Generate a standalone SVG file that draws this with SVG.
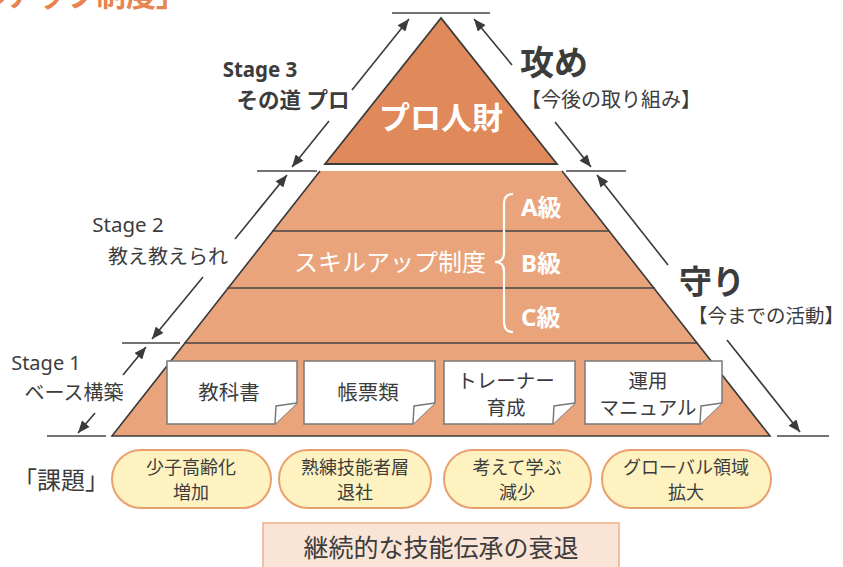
<svg xmlns="http://www.w3.org/2000/svg" width="843" height="567" viewBox="0 0 843 567">
<style>
text{font-family:"Noto Sans","Noto Sans CJK JP",sans-serif;fill:#3c3c3c}
.w{fill:#fff}
.b{font-weight:bold}
.tick{stroke:#444;stroke-width:1.5}
.arr{stroke:#3a3a3a;stroke-width:1.6;fill:none;marker-end:url(#ah)}
.doc{fill:#fff;stroke:#7a7a7a;stroke-width:1.5}
.ov{fill:#FEF3C0;stroke:#E9A06E;stroke-width:2}
.dt{font-size:20.5px;text-anchor:middle}
.dt2{font-size:19.5px;text-anchor:middle}
.ot{font-size:18px;text-anchor:middle}
</style>
<defs>
<marker id="ah" viewBox="0 0 12 10" refX="12" refY="5" markerWidth="13" markerHeight="10" orient="auto" markerUnits="userSpaceOnUse">
<path d="M0,0 L12,5 L0,10 z" fill="#3a3a3a"/>
</marker>
</defs>

<text x="186" y="6" font-size="30" font-weight="bold" text-anchor="end" style="fill:#E8844E">「スキルアップ制度」</text>

<g id="pyramid-top">
<polygon points="441,18 325,164 557,164" fill="#E0895A" stroke="#3a3a3a" stroke-width="1.8" stroke-linejoin="miter"/>
<text x="441" y="129" font-size="31" class="w b" text-anchor="middle">プロ人財</text>
</g>

<g id="pyramid-base">
<polygon points="320,171 562,171 770,436 112,436" fill="#E9A47C"/>
<polyline points="320,171 112,436 770,436 562,171" fill="none" stroke="#3a3a3a" stroke-width="1.6"/>
<line x1="272" y1="231" x2="610" y2="231" class="tick"/>
<line x1="227" y1="288" x2="655" y2="288" class="tick"/>
<line x1="184" y1="343" x2="698" y2="343" class="tick"/>
<text x="486" y="271" font-size="24" class="w" text-anchor="end">スキルアップ制度</text>
<path d="M513,194 Q504,194 504,204 L504,253 Q504,262 495,262 Q504,262 504,271 L504,322 Q504,332 513,332" fill="none" stroke="#fff" stroke-width="2.2"/>
<text x="521" y="216" font-size="24" class="w b">A級</text>
<text x="521" y="272" font-size="24" class="w b">B級</text>
<text x="521" y="326" font-size="24" class="w b">C級</text>
</g>

<g id="doc-kyokasho">
<path class="doc" d="M167,361 H297 V403 L275,424 H167 Z"/>
<path class="doc" d="M275,424 L276,406 L297,403"/>
<text class="dt" x="229" y="400">教科書</text>
</g>
<g id="doc-chohyo">
<path class="doc" d="M304,361 H435 V403 L413,424 H304 Z"/>
<path class="doc" d="M413,424 L414,406 L435,403"/>
<text class="dt" x="368" y="400">帳票類</text>
</g>
<g id="doc-trainer">
<path class="doc" d="M444,361 H575 V403 L553,424 H444 Z"/>
<path class="doc" d="M553,424 L554,406 L575,403"/>
<text class="dt2" x="506" y="388">トレーナー</text>
<text class="dt2" x="506" y="414.5">育成</text>
</g>
<g id="doc-manual">
<path class="doc" d="M585,361 H722 V403 L700,424 H585 Z"/>
<path class="doc" d="M700,424 L701,406 L722,403"/>
<text class="dt2" x="648" y="388">運用</text>
<text class="dt2" x="648" y="414.5">マニュアル</text>
</g>

<g id="connectors">
<line x1="392" y1="13" x2="490" y2="13" class="tick"/>
<line x1="257" y1="171" x2="317" y2="171" class="tick"/>
<line x1="566" y1="171" x2="626" y2="171" class="tick"/>
<line x1="122" y1="343" x2="180" y2="343" class="tick"/>
<line x1="47" y1="436" x2="106" y2="436" class="tick"/>
<line x1="777" y1="436" x2="829" y2="436" class="tick"/>
<line x1="352" y1="90" x2="409" y2="19" class="arr"/>
<line x1="329" y1="121" x2="292" y2="167" class="arr"/>
<line x1="235" y1="239" x2="287" y2="175" class="arr"/>
<line x1="203" y1="277" x2="152" y2="339" class="arr"/>
<line x1="123" y1="375" x2="146" y2="347" class="arr"/>
<line x1="95" y1="413" x2="78" y2="433" class="arr"/>
<line x1="512" y1="65" x2="474" y2="19" class="arr"/>
<line x1="555" y1="122" x2="591" y2="167" class="arr"/>
<line x1="668" y1="265" x2="597" y2="175" class="arr"/>
<line x1="727" y1="340" x2="800" y2="432" class="arr"/>
</g>

<g id="label-stage3">
<text x="260" y="77" font-size="20.5" class="b" text-anchor="middle">Stage 3</text>
<text x="293" y="108" font-size="21.5" class="b" text-anchor="middle">その道 プロ</text>
</g>
<g id="label-seme">
<text x="520" y="75" font-size="34" class="b">攻め</text>
<text x="521" y="107" font-size="20">【今後の取り組み】</text>
</g>
<g id="label-stage2">
<text x="128" y="232" font-size="20.5" text-anchor="middle">Stage 2</text>
<text x="168" y="264" font-size="20" text-anchor="middle">教え教えられ</text>
</g>
<g id="label-stage1">
<text x="46" y="370" font-size="20" text-anchor="middle">Stage 1</text>
<text x="74" y="400" font-size="20" text-anchor="middle">ベース構築</text>
</g>
<g id="label-mamori">
<text x="679" y="294" font-size="33" class="b">守り</text>
<text x="688" y="323" font-size="19.5">【今までの活動】</text>
</g>

<g id="kadai">
<text x="61" y="489" font-size="24" text-anchor="middle">「課題」</text>
</g>
<g id="issue-1">
<rect class="ov" x="112" y="450" width="159" height="58" rx="29"/>
<text class="ot" x="191" y="474">少子高齢化</text>
<text class="ot" x="191" y="499">増加</text>
</g>
<g id="issue-2">
<rect class="ov" x="279" y="450" width="152" height="58" rx="29"/>
<text class="ot" x="355" y="474">熟練技能者層</text>
<text class="ot" x="355" y="499">退社</text>
</g>
<g id="issue-3">
<rect class="ov" x="444" y="450" width="147" height="58" rx="29"/>
<text class="ot" x="517" y="474">考えて学ぶ</text>
<text class="ot" x="517" y="499">減少</text>
</g>
<g id="issue-4">
<rect class="ov" x="602" y="450" width="169" height="58" rx="29"/>
<text class="ot" x="686" y="474">グローバル領域</text>
<text class="ot" x="686" y="499">拡大</text>
</g>

<g id="result">
<rect x="263" y="523" width="356" height="60" fill="#FAE4D6" stroke="#EFB088" stroke-width="1.5"/>
<text x="441" y="557" font-size="25" text-anchor="middle">継続的な技能伝承の衰退</text>
</g>
</svg>
